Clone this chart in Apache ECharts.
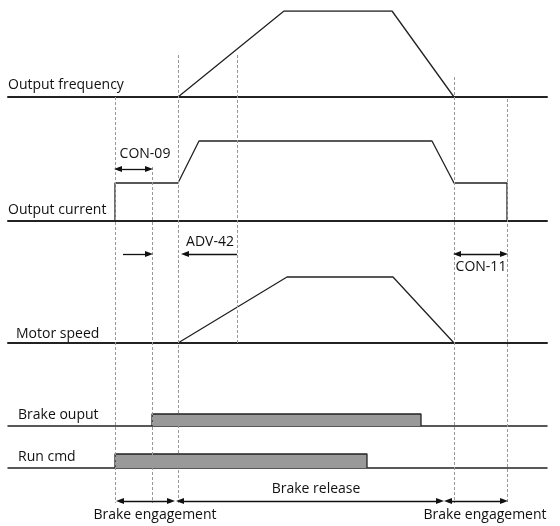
<!DOCTYPE html>
<html>
<head>
<meta charset="utf-8">
<script src="https://cdn.jsdelivr.net/npm/echarts@6/dist/echarts.min.js"></script>
<style>
  html, body { margin: 0; padding: 0; background: #fff; }
  #chart { width: 560px; height: 526px; }
</style>
</head>
<body>
<div id="chart"></div>
<script>
// time axis runs 0..539 (same for every row)
const tMax = 539
// output frequency trace
const freqTime = [170, 276, 384, 446]
const freqLevel = [0, 100, 100, 0]
// output current trace
const curTime = [107, 107, 170, 191, 424, 446, 499, 499]
const curLevel = [0, 38, 38, 80, 80, 38, 38, 0]
// motor speed trace
const speedTime = [170, 279, 385, 446]
const speedLevel = [0, 66, 66, 0]
// brake output / run command pulses
const brakeTime = [144, 144, 413, 413]
const brakeLevel = [0, 12, 12, 0]
const runTime = [107, 107, 359, 359]
const runLevel = [0, 14, 14, 0]
// dashed guide lines: time, top, bottom
const guideTime = [107, 144, 170, 229, 446, 499]
const guideTop = [97, 167, 55, 55, 77, 99]
const guideBottom = [503, 503, 503, 343, 503, 503]

const zip = (a, b) => a.map((v, i) => [v, b[i]])

const chart = echarts.init(document.getElementById('chart'))

const FONT = '"Open Sans", "DejaVu Sans", sans-serif'
//行的布局 (top, height)
const rows = [
  { top: 11, height: 86 },
  { top: 121, height: 100 },
  { top: 243, height: 100 },
  { top: 326, height: 100 },
  { top: 368, height: 100 },
]

const grids = rows.map(r => ({ left: 8, right: 13, top: r.top, height: r.height }))
grids.push({ left: 8, right: 13, top: 0, height: 526 })

const xAxes = rows.map((r, i) => ({
  gridIndex: i, type: 'value', min: 0, max: tMax,
  axisLine: { show: true, onZero: false, lineStyle: { color: '#222', width: i < 3 ? 2 : 1.5 } },
  axisTick: { show: false }, axisLabel: { show: false }, splitLine: { show: false },
}))
xAxes.push({ gridIndex: 5, type: 'value', min: 0, max: tMax, show: false })

const yAxes = rows.map((r, i) => ({
  gridIndex: i, type: 'value', min: 0, max: 100, show: false,
}))
yAxes.push({ gridIndex: 5, type: 'value', min: 0, max: 526, inverse: true, show: false })

const trace = (idx, data) => ({
  type: 'line', xAxisIndex: idx, yAxisIndex: idx, data,
  symbol: 'none', silent: true,
  lineStyle: { color: '#222', width: 1.3 },
})
const pulse = (idx, data) => ({
  type: 'line', xAxisIndex: idx, yAxisIndex: idx, data,
  symbol: 'none', silent: true,
  lineStyle: { color: '#222', width: 1.3 },
  areaStyle: { color: '#999', opacity: 1 },
})

const arrow = (x1, x2, y, s1, s2) => [
  { coord: [x1, y], symbol: s1 },
  { coord: [x2, y], symbol: s2 },
]

chart.setOption({
  animation: false,
  grid: grids,
  xAxis: xAxes,
  yAxis: yAxes,
  series: [
    trace(0, zip(freqTime, freqLevel)),
    trace(1, zip(curTime, curLevel)),
    trace(2, zip(speedTime, speedLevel)),
    pulse(3, zip(brakeTime, brakeLevel)),
    pulse(4, zip(runTime, runLevel)),
    {
      type: 'line', xAxisIndex: 5, yAxisIndex: 5, data: [],
      markLine: {
        silent: true, symbol: 'none', label: { show: false },
        lineStyle: { color: '#999', width: 1, type: [3, 2] },
        data: guideTime.map((t, i) => [
          { coord: [t, guideTop[i]] },
          { coord: [t, guideBottom[i]] },
        ]),
      },
    },
    {
      type: 'line', xAxisIndex: 5, yAxisIndex: 5, data: [],
      markLine: {
        silent: true, label: { show: false },
        symbolSize: [6, 8],
        lineStyle: { color: '#111', width: 1.3, type: 'solid' },
        data: [
          arrow(110, 141, 169, 'triangle', 'triangle'),
          arrow(115, 141, 254, 'none', 'triangle'),
          arrow(229, 177, 254, 'none', 'triangle'),
          arrow(449, 496, 254, 'triangle', 'triangle'),
          arrow(112, 163, 501, 'triangle', 'triangle'),
          arrow(172, 432, 501, 'triangle', 'triangle'),
          arrow(440, 496, 501, 'triangle', 'triangle'),
        ],
      },
    },
  ],
  graphic: [
    ['Output frequency', 8, 85, 'left'],
    ['CON-09', 145, 154, 'center'],
    ['Output current', 8, 210, 'left'],
    ['ADV-42', 210, 242, 'center'],
    ['CON-11', 481, 267, 'center'],
    ['Motor speed', 16, 334, 'left'],
    ['Brake ouput', 18, 415, 'left'],
    ['Run cmd', 18, 457, 'left'],
    ['Brake release', 316, 489, 'center'],
    ['Brake engagement', 155, 515, 'center'],
    ['Brake engagement', 485, 515, 'center'],
  ].map(([text, x, y, align]) => ({
    type: 'text', x, y, silent: true,
    style: {
      text, fill: '#111', font: '14px ' + FONT,
      textAlign: align, textVerticalAlign: 'middle',
    },
  })),
})
</script>
</body>
</html>
